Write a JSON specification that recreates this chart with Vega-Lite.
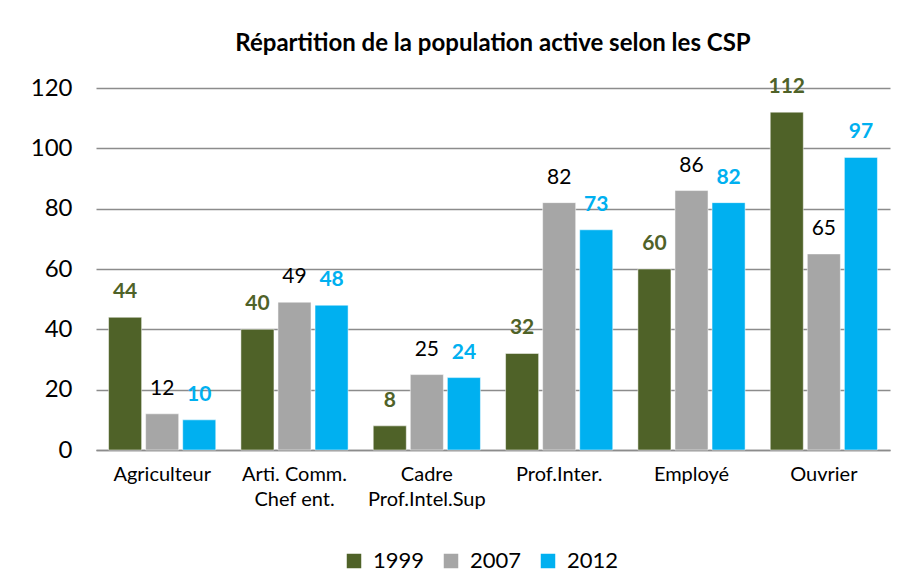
{
  "$schema": "https://vega.github.io/schema/vega-lite/v6.json",
  "width": 794,
  "height": 362,
  "autosize": {"type": "none"},
  "padding": {"left": 96, "top": 88, "right": 18, "bottom": 135},
  "background": "white",
  "config": {
    "font": "Lato",
    "view": {"stroke": null}
  },
  "title": {
    "text": "Répartition de la population active selon les CSP",
    "fontSize": 24,
    "fontWeight": "bold",
    "font": "Lato",
    "color": "#000000",
    "anchor": "middle",
    "frame": "group",
    "offset": 20
  },
  "data": {
    "values": [
      {"csp": "Agriculteur", "annee": "1999", "valeur": 44},
      {"csp": "Agriculteur", "annee": "2007", "valeur": 12},
      {"csp": "Agriculteur", "annee": "2012", "valeur": 10},
      {"csp": "Arti. Comm.|Chef ent.", "annee": "1999", "valeur": 40},
      {"csp": "Arti. Comm.|Chef ent.", "annee": "2007", "valeur": 49},
      {"csp": "Arti. Comm.|Chef ent.", "annee": "2012", "valeur": 48},
      {"csp": "Cadre|Prof.Intel.Sup", "annee": "1999", "valeur": 8},
      {"csp": "Cadre|Prof.Intel.Sup", "annee": "2007", "valeur": 25},
      {"csp": "Cadre|Prof.Intel.Sup", "annee": "2012", "valeur": 24},
      {"csp": "Prof.Inter.", "annee": "1999", "valeur": 32},
      {"csp": "Prof.Inter.", "annee": "2007", "valeur": 82},
      {"csp": "Prof.Inter.", "annee": "2012", "valeur": 73},
      {"csp": "Employé", "annee": "1999", "valeur": 60},
      {"csp": "Employé", "annee": "2007", "valeur": 86},
      {"csp": "Employé", "annee": "2012", "valeur": 82},
      {"csp": "Ouvrier", "annee": "1999", "valeur": 112},
      {"csp": "Ouvrier", "annee": "2007", "valeur": 65},
      {"csp": "Ouvrier", "annee": "2012", "valeur": 97}
    ]
  },
  "encoding": {
    "x": {
      "field": "csp",
      "type": "nominal",
      "sort": null,
      "scale": {"paddingInner": 0.19, "paddingOuter": 0.095},
      "axis": {
        "title": null,
        "labelAngle": 0,
        "labelExpr": "split(datum.label, '|')",
        "labelFontSize": 20,
        "labelFont": "Lato",
        "labelColor": "#000000",
        "labelPadding": 14,
        "labelLineHeight": 25,
        "ticks": false,
        "domainColor": "#8c8c8c",
        "domainWidth": 1.5,
        "grid": false
      }
    },
    "xOffset": {
      "field": "annee",
      "type": "nominal",
      "scale": {"paddingInner": 0.108, "paddingOuter": 0}
    },
    "y": {
      "field": "valeur",
      "type": "quantitative",
      "scale": {"domain": [0, 120], "nice": false},
      "axis": {
        "title": null,
        "values": [0, 20, 40, 60, 80, 100, 120],
        "labelFontSize": 24,
        "labelFont": "Lato",
        "labelColor": "#000000",
        "labelPadding": 24,
        "ticks": false,
        "domain": false,
        "gridColor": "#8c8c8c",
        "gridWidth": 1.5
      }
    }
  },
  "layer": [
    {
      "mark": {"type": "bar", "stroke": "white", "strokeWidth": 0.5},
      "encoding": {
        "color": {
          "field": "annee",
          "type": "nominal",
          "scale": {"domain": ["1999", "2007", "2012"], "range": ["#4F6228", "#A6A6A6", "#00B0F0"]},
          "legend": {
            "title": null,
            "orient": "none",
            "legendX": 247,
            "legendY": 462,
            "direction": "horizontal",
            "symbolType": "square",
            "symbolSize": 210,
            "symbolStrokeWidth": 0,
            "labelFontSize": 22,
            "labelFont": "Lato",
            "labelColor": "#000000",
            "labelOffset": 8,
            "columnPadding": 15
          }
        }
      }
    },
    {
      "transform": [{"filter": "datum.annee == '1999'"}],
      "mark": {"type": "text", "fontSize": 21, "fontWeight": "bold", "color": "#4F6228", "baseline": "alphabetic", "dy": -19, "font": "Lato"},
      "encoding": {"text": {"field": "valeur", "type": "quantitative"}}
    },
    {
      "transform": [{"filter": "datum.annee == '2007'"}],
      "mark": {"type": "text", "fontSize": 21, "fontWeight": "normal", "color": "#000000", "baseline": "alphabetic", "dy": -19, "font": "Lato"},
      "encoding": {"text": {"field": "valeur", "type": "quantitative"}}
    },
    {
      "transform": [{"filter": "datum.annee == '2012'"}],
      "mark": {"type": "text", "fontSize": 21, "fontWeight": "bold", "color": "#00B0F0", "baseline": "alphabetic", "dy": -19, "font": "Lato"},
      "encoding": {"text": {"field": "valeur", "type": "quantitative"}}
    }
  ]
}
